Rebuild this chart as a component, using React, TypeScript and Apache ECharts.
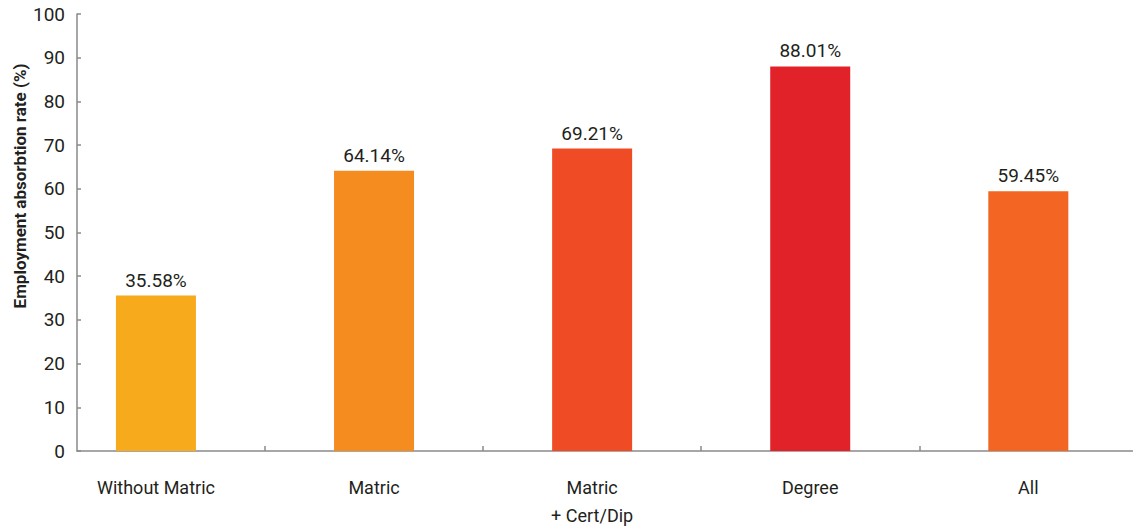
import React, { useEffect, useRef } from "react";
import * as echarts from "echarts";

// Education level groups and their employment absorption rates (%)
const categories: string[] = ["Without Matric", "Matric", "Matric\n+ Cert/Dip", "Degree", "All"];
const rates: number[] = [35.58, 64.14, 69.21, 88.01, 59.45];
const barColors: string[] = ["#F6AA1C", "#F48C20", "#EF4B24", "#E12228", "#F26522"];
const yTicks = { min: 0, max: 100, interval: 10 };

const FONT = "Roboto, 'Liberation Sans', sans-serif";
const TEXT = "#231F20";
const AXIS = "#8A8A8A";

export default function App() {
  const ref = useRef<HTMLDivElement | null>(null);

  useEffect(() => {
    if (!ref.current) return;
    const chart = echarts.init(ref.current, undefined, { renderer: "svg" });

    const positions = categories.map((_, i) => i);
    const separators = positions.slice(0, -1).map((i) => i + 0.5);

    chart.setOption({
      animation: false,
      backgroundColor: "#ffffff",
      grid: { left: 77, right: 0, top: 14, bottom: 80, containLabel: false },
      xAxis: {
        type: "value",
        min: -0.362,
        max: 4.48,
        splitLine: { show: false },
        axisLine: { show: true, onZero: false, lineStyle: { color: AXIS, width: 1.5 } },
        axisTick: {
          show: true,
          inside: true,
          length: 5,
          customValues: separators,
          lineStyle: { color: AXIS, width: 1.5 },
        },
        axisLabel: {
          customValues: positions,
          formatter: (v: number) => categories[Math.round(v)] ?? "",
          color: TEXT,
          fontFamily: FONT,
          fontSize: 18,
          lineHeight: 28,
          margin: 22,
          verticalAlign: "top",
        },
      },
      yAxis: {
        type: "value",
        min: yTicks.min,
        max: yTicks.max,
        interval: yTicks.interval,
        splitLine: { show: false },
        axisLine: { show: true, onZero: false, lineStyle: { color: AXIS, width: 1.5 } },
        axisTick: { show: true, inside: true, length: 4, lineStyle: { color: AXIS, width: 1.5 } },
        axisLabel: { color: TEXT, fontFamily: FONT, fontSize: 19, margin: 12 },
      },
      graphic: [
        {
          type: "text",
          x: 20,
          y: 186,
          rotation: Math.PI / 2,
          style: {
            text: "Employment absorbtion rate (%)",
            fill: TEXT,
            font: `bold 17px ${FONT}`,
            textAlign: "center",
            textVerticalAlign: "middle",
          },
        },
      ],
      series: [
        {
          type: "bar",
          barWidth: 80,
          data: rates.map((v, i) => ({
            value: [positions[i], v],
            itemStyle: { color: barColors[i] },
          })),
          label: {
            show: true,
            position: "top",
            distance: 6,
            color: TEXT,
            fontFamily: FONT,
            fontSize: 19,
            formatter: (p: any) => `${rates[p.dataIndex].toFixed(2)}%`,
          },
        },
      ],
    });

    return () => chart.dispose();
  }, []);

  return <div ref={ref} style={{ width: 1133, height: 531, position: "absolute", left: 0, top: 0 }} />;
}
